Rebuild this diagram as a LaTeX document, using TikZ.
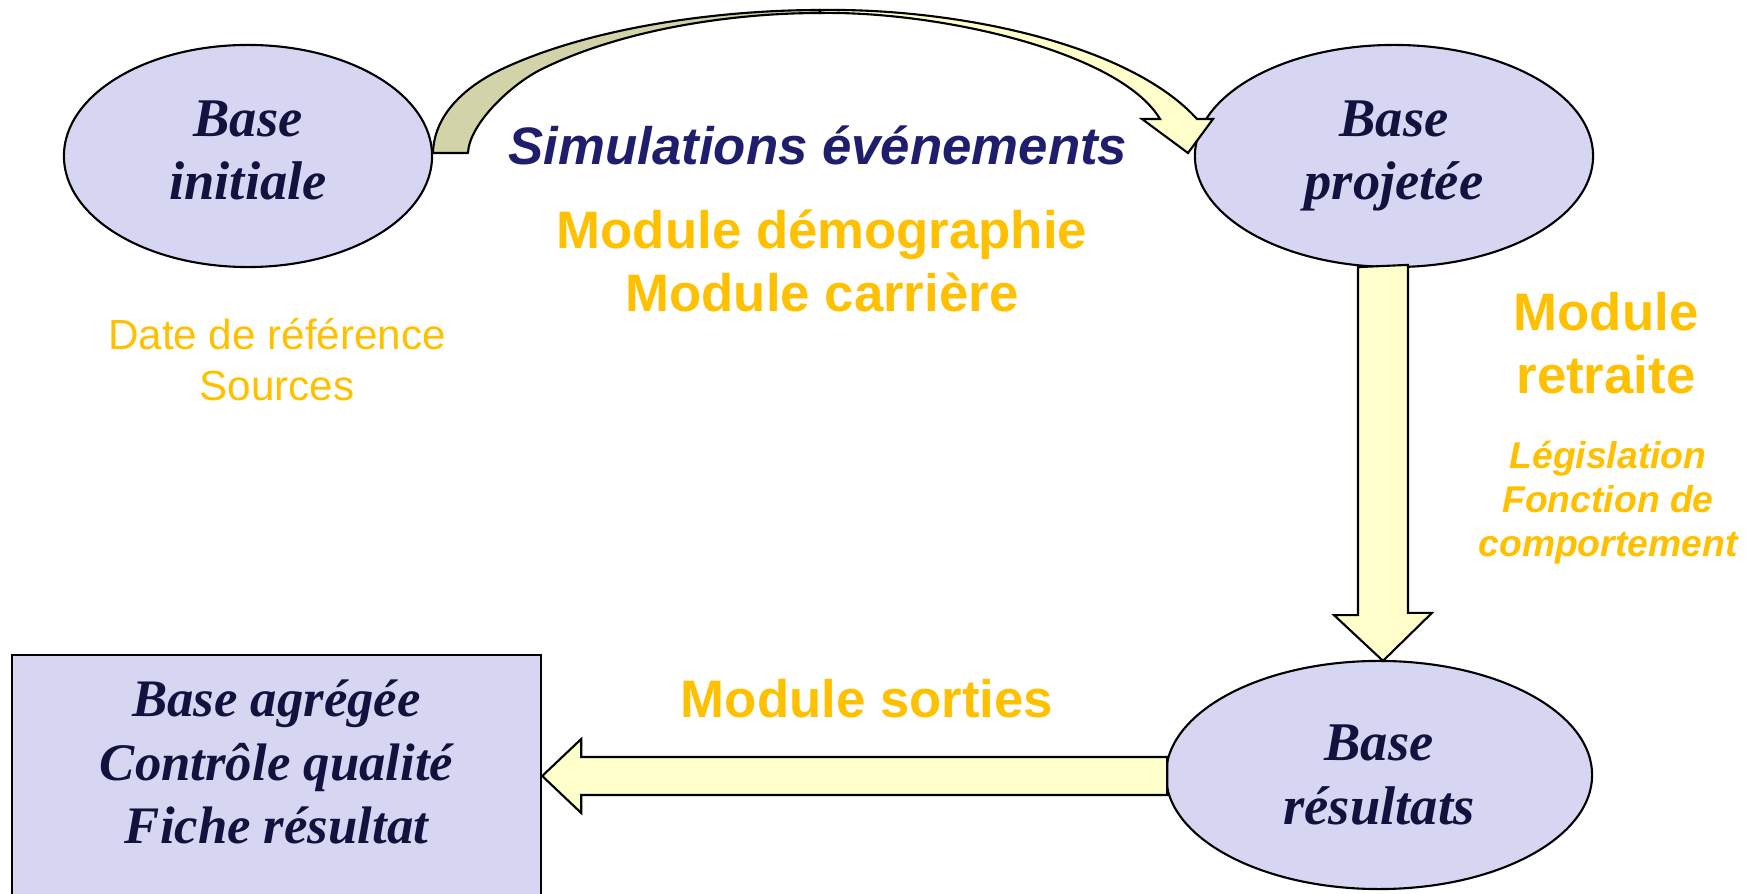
\documentclass[tikz,border=0pt]{standalone}
\usepackage{fontspec}
\setmainfont{Liberation Serif}
\setsansfont{Liberation Sans}
\usetikzlibrary{shapes.geometric,calc}

\definecolor{lav}{RGB}{214,214,243}
\definecolor{ink}{RGB}{18,18,62}
\definecolor{navy}{RGB}{30,30,108}
\definecolor{gold}{RGB}{255,192,0}
\definecolor{cream}{RGB}{255,255,204}
\definecolor{olive}{RGB}{211,211,170}

\begin{document}
\begin{tikzpicture}[x=0.01cm, y=-0.01cm, line width=0.6pt,
    basenode/.style={ellipse, draw, fill=lav, minimum width=3.68cm,
      minimum height=2.22cm, inner sep=0pt, align=center, text=ink,
      font=\fontsize{15.5}{18}\selectfont\bfseries\itshape},
    outbox/.style={rectangle, draw, fill=lav, minimum width=5.29cm,
      minimum height=2.42cm, text depth=0.28cm, inner sep=0pt,
      align=center, text=ink,
      font=\fontsize{15}{18.1}\selectfont\bfseries\itshape},
    fatarrow/.style={draw, fill=cream, line join=miter},
    modtext/.style={align=center, text=gold, inner sep=0pt,
      font=\sffamily\fontsize{15}{17.8}\selectfont\bfseries},
    smalltext/.style={align=center, text=gold, inner sep=0pt,
      font=\sffamily\fontsize{10.6}{12.5}\selectfont\bfseries\itshape},
    srctext/.style={align=center, text=gold, inner sep=0pt,
      font=\sffamily\fontsize{12}{14.5}\selectfont}]
  \useasboundingbox (0,0) rectangle (1756,894);
  \clip (0,0) rectangle (1756,894);

  \node[basenode] (ini) at (248,156) {Base\\initiale\vphantom{p}};
  \node[basenode, minimum width=3.98cm] (proj) at (1394,156) {Base\\projetée};
  \node[basenode, minimum width=4.26cm, minimum height=2.28cm] (res) at (1379,775)
    {Base\\résultats};
  \node[outbox] (agg) at (276.5,776)
    {Base agrégée\\Contrôle qualité\\Fiche résultat};

  \filldraw[fill=olive, line join=round] (433,153)
    .. controls (434,110) and (473,83) .. (500,70)
    .. controls (590,27) and (720,10) .. (820,10)
    -- (820,13)
    .. controls (730,13) and (620,30) .. (540,70)
    .. controls (509,86) and (469,125) .. (468,153)
    -- cycle;
  \filldraw[fatarrow] (820,10)
    .. controls (960,8) and (1130,45) .. (1197,119)
    -- (1213,119) -- (1188,153) -- (1142,119) -- (1160,119)
    .. controls (1120,52) and (940,11) .. (820,13)
    -- cycle;

  \coordinate (dtip) at ($(res.north)+(4,1)$);
  \draw[fatarrow] (dtip |- proj.south) ++(-25,-1) -- ++(0,348) -- ++(-24,0)
    -- (dtip) -- ++(49,-48) -- ++(-24,0) -- ++(0,-348) -- cycle;
  \draw[fatarrow] (agg.east) -- ++(39,-37) -- ++(0,18) -- ++(586,0)
    -- ++(0,38) -- ++(-586,0) -- ++(0,18) -- cycle;

  \node[anchor=base, text=navy, inner sep=0pt,
    font=\sffamily\fontsize{15}{18}\selectfont\bfseries\itshape]
    (sim) at (818,165) {Simulations événements};
  \node[modtext] (demo) at (822,261) {Module démographie\\Module carrière};
  \node[modtext, anchor=base] (sort) at (867,718) {Module sorties};
  \node[modtext] (retr) at (1606,343) {Module\\retraite};
  \node[smalltext] (legis) at (1608,503) {Législation\\Fonction de\\comportement};
  \node[srctext] (src) at (277,360) {Date de référence\\Sources};
\end{tikzpicture}
\end{document}
